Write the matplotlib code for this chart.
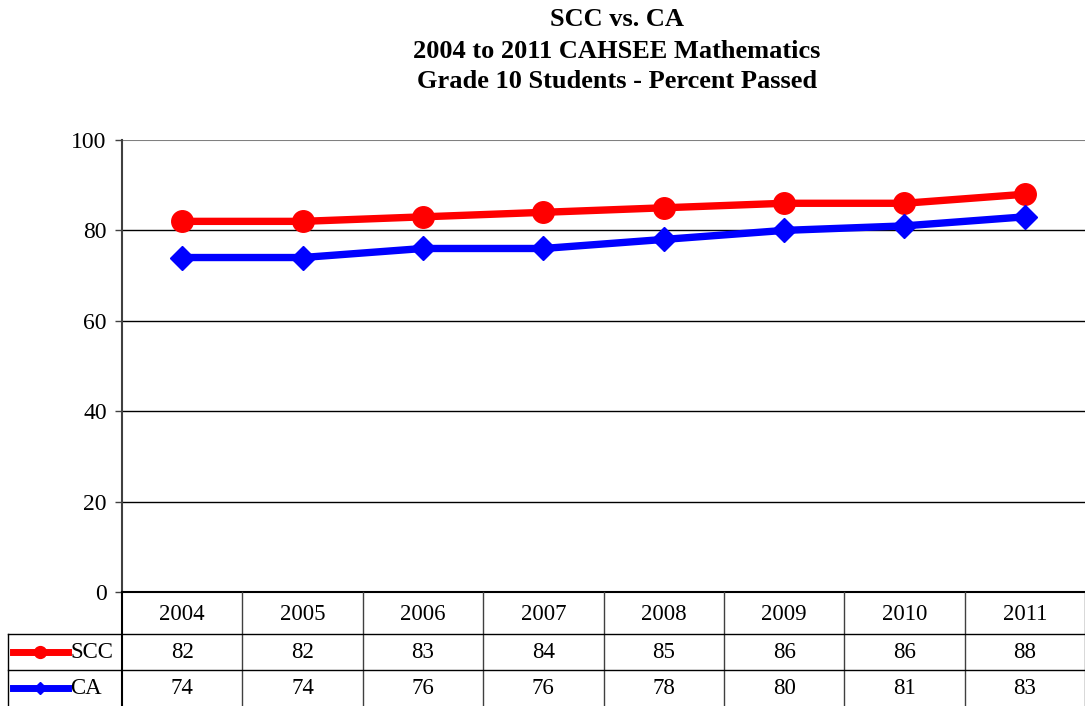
import matplotlib
matplotlib.use('Agg')
import matplotlib.pyplot as plt
import matplotlib.transforms as mtransforms
from matplotlib.lines import Line2D

plt.rcParams['font.family'] = ['Liberation Serif', 'DejaVu Serif']

# ---- data ----
years = ['2004', '2005', '2006', '2007', '2008', '2009', '2010', '2011']
scc = [82, 82, 83, 84, 85, 86, 86, 88]
ca = [74, 74, 76, 76, 78, 80, 81, 83]
series_names = ['SCC', 'CA']
series_colors = ['#ff0000', '#0000ff']
series_markers = ['o', 'D']
series_msize = [15.5, 12]

W, H = 1085, 706
fig = plt.figure(figsize=(W / 100, H / 100), dpi=100)

# plot area (pixel layout of the original)
left, right, top, bottom = 122, 1085, 140, 592
ax = fig.add_axes([left / W, 1 - bottom / H, (right - left) / W, (bottom - top) / H])

x = list(range(len(years)))
for vals, c, m, ms in zip([scc, ca], series_colors, series_markers, series_msize):
    ax.plot(x, vals, color=c, lw=5.3, marker=m, markersize=ms, zorder=3, clip_on=False)

ax.set_xlim(-0.5, len(years) - 0.5)
ax.set_ylim(0, 100)
ax.set_yticks(range(0, 101, 20))
ax.set_xticks([])
ax.tick_params(axis='y', labelsize=17, length=5, width=1, color='#404040', pad=6)
for yv in range(20, 100, 20):
    ax.axhline(yv, color='black', lw=1, zorder=1)
ax.axhline(100, color='#808080', lw=1.5, zorder=1)
for s in ['top', 'right']:
    ax.spines[s].set_visible(False)
ax.spines['left'].set_color('#404040')
ax.spines['left'].set_linewidth(1.5)
ax.spines['bottom'].set_color('black')
ax.spines['bottom'].set_linewidth(1.5)

# ---- title ----
title_lines = ['SCC vs. CA', '2004 to 2011 CAHSEE Mathematics', 'Grade 10 Students - Percent Passed']
for t, py in zip(title_lines, [20, 51, 81]):
    fig.text(617 / W, 1 - py / H, t, ha='center', va='center', fontsize=19, fontweight='bold')

# ---- data table ----
row_edges = [592, 634, 670, 706]  # pixel rows: header, SCC, CA
tr = mtransforms.blended_transform_factory(ax.transData, fig.transFigure)

def fy(p):
    return 1 - p / H

# vertical lines between categories
for k in range(len(years) + 1):
    xb = k - 0.5
    lw = 1.5 if k == 0 else 1
    col = 'black' if k == 0 else '#404040'
    fig.add_artist(Line2D([xb, xb], [fy(row_edges[0]), fy(row_edges[-1])],
                          transform=tr, color=col, lw=lw))
# horizontal lines
for p in row_edges[1:3]:
    fig.add_artist(Line2D([8 / W, 1], [fy(p), fy(p)], transform=fig.transFigure, color='black', lw=1))
fig.add_artist(Line2D([8 / W, 8 / W], [fy(row_edges[1]), fy(row_edges[-1])],
                      transform=fig.transFigure, color='black', lw=1))

# header cells
for i, yr in enumerate(years):
    fig.text(i, fy((row_edges[0] + row_edges[1]) / 2 + 2), yr, transform=tr,
             ha='center', va='center', fontsize=16.5)

# series rows
for r, (name, vals, c, m, ms) in enumerate(zip(series_names, [scc, ca], series_colors,
                                                series_markers, series_msize)):
    yc = fy((row_edges[r + 1] + row_edges[r + 2]) / 2)
    for i, v in enumerate(vals):
        fig.text(i, yc, str(v), transform=tr, ha='center', va='center', fontsize=16.5)
    fig.add_artist(Line2D([13 / W, 68 / W], [yc, yc], transform=fig.transFigure, color=c, lw=5))
    fig.add_artist(Line2D([40 / W], [yc], transform=fig.transFigure, color=c,
                          marker=m, markersize=ms * 0.55, lw=0))
    fig.text(70 / W, yc, name, ha='left', va='center', fontsize=16.5)

fig.savefig('out.png', dpi=100)
